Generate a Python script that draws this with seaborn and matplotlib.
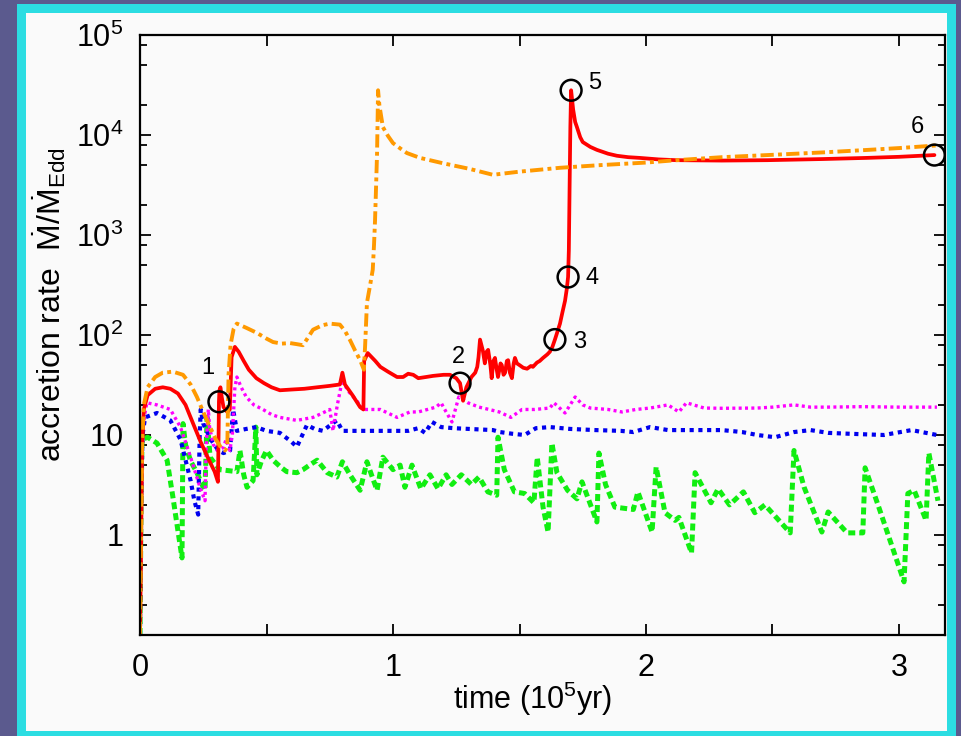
import matplotlib
matplotlib.use("Agg")
import matplotlib.pyplot as plt
import seaborn as sns
import pandas as pd
from matplotlib.patches import Rectangle
from matplotlib.ticker import FixedLocator, FixedFormatter, NullFormatter

sns.set_theme(style="ticks")
plt.rcParams["font.family"] = ["Liberation Sans", "DejaVu Sans"]
plt.rcParams["mathtext.fontset"] = "custom"
plt.rcParams["mathtext.rm"] = "Liberation Sans"
plt.rcParams["mathtext.it"] = "Liberation Sans"
plt.rcParams["mathtext.bf"] = "Liberation Sans:bold"
plt.rcParams["mathtext.default"] = "regular"

# ---- accretion histories (time in 1e5 yr, rate in Eddington units) ----
red_t = [0.000, 0.004, 0.008, 0.015, 0.03, 0.06, 0.09, 0.12, 0.15, 0.18, 0.21, 0.24, 0.27,
         0.295, 0.308, 0.311, 0.312, 0.314, 0.318, 0.323, 0.33, 0.345, 0.355, 0.362, 0.375,
         0.39, 0.41, 0.43, 0.46, 0.49, 0.52, 0.553, 0.60, 0.65, 0.70, 0.75, 0.79, 0.80, 0.81,
         0.84, 0.87, 0.883, 0.886, 0.90, 0.93, 0.95, 0.98, 1.016, 1.04, 1.06, 1.08, 1.10,
         1.13, 1.158, 1.20, 1.225, 1.25, 1.265, 1.277, 1.29, 1.31, 1.325, 1.333, 1.338, 1.344,
         1.355, 1.363, 1.37, 1.376, 1.385, 1.39, 1.397, 1.403, 1.41, 1.415, 1.425, 1.43, 1.437,
         1.443, 1.45, 1.455, 1.462, 1.47, 1.477, 1.482, 1.49, 1.50, 1.515, 1.53, 1.545, 1.553,
         1.569, 1.58, 1.593, 1.61, 1.62, 1.63, 1.64, 1.65, 1.66, 1.67, 1.68, 1.687, 1.692,
         1.695, 1.698, 1.701, 1.704, 1.712, 1.72, 1.727, 1.74, 1.75, 1.78, 1.806, 1.85, 1.885,
         1.93, 1.976, 2.05, 2.12, 2.3, 2.48, 2.7, 2.87, 3.0, 3.14]
red_rate = [0.1, 0.6, 7, 18, 25, 29, 30, 29, 26, 20, 13, 8.5, 5.8,
            4.3, 3.4, 12, 21.5, 28, 30, 24, 19, 17, 18, 60, 76,
            68, 55, 45, 37, 33, 30, 28, 28.5, 29, 30, 31, 32, 42, 32,
            25, 19, 18, 55, 66, 55, 48, 43, 38, 38, 41, 40, 37,
            38, 39, 40, 40, 37, 33, 22, 30, 38, 42, 48, 60, 90,
            70, 52, 68, 71, 50, 37, 55, 59, 45, 38, 52, 50, 40,
            42, 55, 56, 42, 37, 52, 59, 52, 50, 47, 46, 49, 48,
            53, 55, 59, 64, 68, 76, 90, 108, 130, 170, 220, 290, 380,
            700, 3000, 12000, 28000, 18000, 13500, 12000, 9500, 8500, 7600, 7100, 6500, 6200,
            6000, 5900, 5700, 5600, 5550, 5600, 5750, 5900, 6050, 6300]

orange_t = [0.000, 0.004, 0.008, 0.015, 0.03, 0.06, 0.09, 0.13, 0.17, 0.20, 0.225, 0.25,
            0.277, 0.30, 0.32, 0.336, 0.345, 0.350, 0.358, 0.37, 0.383, 0.42, 0.462, 0.50,
            0.526, 0.56, 0.593, 0.62, 0.644, 0.665, 0.684, 0.72, 0.75, 0.79, 0.81, 0.83, 0.85,
            0.87, 0.885, 0.89, 0.897, 0.91, 0.92, 0.925, 0.929, 0.933, 0.937, 0.941, 0.946,
            0.96, 0.98, 1.0, 1.03, 1.055, 1.107, 1.2, 1.3, 1.395, 1.5, 1.66, 1.82, 2.0, 2.12,
            2.3, 2.48, 2.7, 2.87, 3.0, 3.16]
orange_rate = [0.1, 1, 8, 20, 30, 38, 42, 43, 40, 32, 24, 17,
               12, 9, 7.5, 7, 7.5, 40, 80, 115, 130, 118, 105, 92,
               85, 82, 83, 81, 79, 95, 113, 125, 130, 127, 110, 89, 70,
               56, 45, 80, 210, 320, 450, 800, 1400, 3000, 6600, 28000, 20000,
               12000, 9800, 8300, 7300, 6600, 5900, 5200, 4600, 4000, 4300, 4700, 5000, 5300, 5600,
               6000, 6300, 6700, 7080, 7400, 7900]

magenta_t = [0.000, 0.004, 0.01, 0.027, 0.067, 0.12, 0.16, 0.2, 0.237, 0.257, 0.262, 0.27,
             0.275, 0.29, 0.305, 0.33, 0.34, 0.355, 0.365, 0.375, 0.383, 0.40, 0.42, 0.45,
             0.486, 0.52, 0.553, 0.62, 0.684, 0.72, 0.75, 0.763, 0.78, 0.80, 0.82, 0.857, 0.88,
             0.95, 1.016, 1.067, 1.1, 1.17, 1.19, 1.21, 1.233, 1.26, 1.296, 1.34, 1.38, 1.42,
             1.466, 1.51, 1.56, 1.62, 1.636, 1.68, 1.72, 1.75, 1.78, 1.85, 1.905, 1.96, 2.016,
             2.087, 2.13, 2.16, 2.23, 2.3, 2.44, 2.5, 2.585, 2.65, 2.72, 2.85, 3.0, 3.15]
magenta_rate = [0.1, 2, 12, 21, 20, 18, 12, 6, 3.0, 2.2, 8, 18,
                12, 8, 7, 7.5, 9, 7, 10, 30, 38, 30, 24, 20,
                18, 16, 15, 14, 15, 16.5, 18, 11, 20, 36, 28, 22, 18,
                18, 15, 17, 17, 19, 21, 17, 13.5, 24, 21, 19, 18, 17,
                15, 18, 18, 18.6, 21, 16.6, 24, 20, 18.6, 18, 17, 18, 18.6,
                20, 17, 21, 18.6, 18.5, 18.6, 19, 20, 19, 19, 19.2, 19, 19]

blue_t = [0.000, 0.004, 0.01, 0.02, 0.067, 0.12, 0.16, 0.2, 0.215, 0.23, 0.236, 0.24, 0.25,
          0.28, 0.31, 0.33, 0.356, 0.368, 0.383, 0.42, 0.46, 0.50, 0.553, 0.60, 0.62, 0.66,
          0.69, 0.723, 0.76, 0.778, 0.80, 0.84, 0.88, 0.95, 1.016, 1.06, 1.1, 1.127, 1.154,
          1.19, 1.24, 1.3, 1.395, 1.423, 1.47, 1.52, 1.565, 1.62, 1.7, 1.8, 1.9, 1.95, 2.016,
          2.087, 2.2, 2.3, 2.38, 2.44, 2.51, 2.585, 2.65, 2.72, 2.8, 2.94, 3.05, 3.15]
blue_rate = [0.1, 2, 10, 15, 16.6, 14, 9, 3.5, 2.2, 1.6, 10, 18, 13,
             9, 7, 6.6, 7, 18, 11, 11.5, 12, 11, 10.5, 8.5, 7.6, 12.6,
             11.5, 11, 13, 14, 11, 11, 11, 11, 11, 11, 11.7, 10.5, 13.5,
             12, 11.7, 11.5, 11.2, 10.7, 10.3, 10, 11.7, 12, 11.5, 11.2, 11, 10.7, 12,
             11.2, 11.2, 11.2, 10.7, 10, 9.5, 10.7, 11.2, 10.5, 10.3, 10, 11.2, 10]

green_t = [0.000, 0.004, 0.008, 0.03, 0.067, 0.107, 0.13, 0.15, 0.166, 0.17, 0.18, 0.2,
           0.225, 0.245, 0.257, 0.265, 0.277, 0.3, 0.316, 0.35, 0.383, 0.395, 0.41, 0.423,
           0.447, 0.458, 0.462, 0.48, 0.5, 0.526, 0.555, 0.58, 0.62, 0.644, 0.67, 0.70, 0.74,
           0.778, 0.80, 0.83, 0.87, 0.897, 0.915, 0.937, 0.96, 1.0, 1.028, 1.047, 1.075, 1.11,
           1.146, 1.178, 1.21, 1.233, 1.27, 1.31, 1.34, 1.375, 1.41, 1.415, 1.44, 1.48, 1.52,
           1.557, 1.57, 1.593, 1.613, 1.628, 1.648, 1.69, 1.727, 1.747, 1.806, 1.814, 1.84,
           1.877, 1.95, 1.968, 2.024, 2.04, 2.075, 2.115, 2.13, 2.18, 2.194, 2.257, 2.285,
           2.33, 2.385, 2.43, 2.47, 2.57, 2.585, 2.625, 2.695, 2.72, 2.795, 2.857, 2.866,
           2.92, 3.02, 3.035, 3.06, 3.107, 3.118, 3.154]
green_rate = [0.1, 2, 9, 9.5, 8.3, 5.6, 2.4, 1.1, 0.59, 13, 8, 5.5,
              4.2, 3.2, 2.8, 15, 6, 5, 4.5, 4.4, 4.3, 7, 4, 3.0,
              3.5, 12, 4, 5.5, 7, 5.6, 4.8, 4.3, 4.2, 4.5, 5, 5.6, 4.2,
              3.8, 5.4, 4, 2.8, 5.4, 4, 2.8, 6, 4.5, 5, 3.0, 5, 2.9,
              4.0, 2.9, 4.0, 3.2, 4.0, 3.2, 3.8, 2.7, 2.5, 9.5, 4.5, 2.7, 2.6,
              2.1, 6, 1.9, 1.07, 8.3, 4.2, 2.8, 2.3, 3.4, 1.35, 6.6, 3.2,
              1.9, 1.8, 2.7, 1.07, 4.8, 1.67, 1.4, 1.5, 0.66, 4.2, 2.1, 2.9,
              2.0, 2.7, 1.67, 2.0, 1.05, 7, 3.0, 1.07, 1.7, 1.05, 1.05, 4.7,
              1.9, 0.34, 2.6, 2.8, 1.4, 6.6, 2.2]

# marked evolutionary stages along the red track
stage_labels = ["1", "2", "3", "4", "5", "6"]
stage_t = [0.312, 1.265, 1.64, 1.692, 1.704, 3.14]
stage_rate = [21.5, 33, 90, 380, 28000, 6300]
stage_text_t = [0.269, 1.257, 1.739, 1.787, 1.798, 3.071]
stage_text_rate = [47, 60, 85, 372, 33000, 12000]

y_ticks = [1, 10, 100, 1e3, 1e4, 1e5]
y_ticklabels = ["1", "10", "$10^2$", "$10^3$", "$10^4$", "$10^5$"]
x_ticks = [0, 1, 2, 3]
x_ticklabels = ["0", "1", "2", "3"]

# ---- figure frame ----
fig = plt.figure(figsize=(9.61, 7.36), dpi=100, facecolor="#5B5A8E")
fig.patches.append(Rectangle((17 / 961, -0.02), 939 / 961, 1.02 - 4 / 736,
                             transform=fig.transFigure, facecolor="#2CDDE2",
                             edgecolor="none", zorder=-3))
fig.patches.append(Rectangle((26 / 961, 5 / 736), 921 / 961, 718 / 736,
                             transform=fig.transFigure, facecolor="#FAFAFA",
                             edgecolor="none", zorder=-2))

ax = fig.add_axes([140 / 961, 101 / 736, 805 / 961, 600 / 736])
ax.set_facecolor("#FAFAFA")

series = [
    (green_t, green_rate, "#11EE11", 3.6, (0, (1.4, 0.8))),
    (blue_t, blue_rate, "#0000EE", 3.0, (0, (1.0, 1.1))),
    (magenta_t, magenta_rate, "#FF00FF", 2.4, (0, (0.9, 1.0))),
    (red_t, red_rate, "#FF0000", 2.7, "-"),
    (orange_t, orange_rate, "#FF9900", 2.8, (0, (3.4, 1.1, 1.0, 1.1))),
]
for t, r, c, lw, ls in series:
    df = pd.DataFrame({"t": t, "rate": r})
    sns.lineplot(data=df, x="t", y="rate", ax=ax, color=c, lw=lw, linestyle=ls,
                 sort=False, estimator=None, dash_capstyle="butt")

sns.scatterplot(x=stage_t, y=stage_rate, ax=ax, s=225, facecolor="none",
                edgecolor="black", linewidth=1.8, zorder=6)
for lab, tx, ty in zip(stage_labels, stage_text_t, stage_text_rate):
    ax.text(tx, ty, lab, fontsize=17, ha="center", va="center", color="black", zorder=7)

ax.set_yscale("log")
ax.set_xlim(0, 805 / 253)
ax.set_ylim(0.1, 1e5)

ax.yaxis.set_major_locator(FixedLocator([0.1] + y_ticks))
ax.yaxis.set_major_formatter(FixedFormatter([""] + y_ticklabels))
minor_y = [m * 10.0 ** k for k in range(-1, 5) for m in (2, 5, 8)]
ax.yaxis.set_minor_locator(FixedLocator(minor_y))
ax.yaxis.set_minor_formatter(NullFormatter())

ax.xaxis.set_major_locator(FixedLocator(x_ticks))
ax.xaxis.set_major_formatter(FixedFormatter(x_ticklabels))
ax.xaxis.set_minor_locator(FixedLocator([0.5, 1.5, 2.5]))
ax.xaxis.set_minor_formatter(NullFormatter())

ax.tick_params(which="both", direction="in", top=True, right=True, colors="black",
               width=1.3, labelsize=22, labelcolor="black")
ax.tick_params(which="major", length=8)
ax.tick_params(axis="y", which="minor", length=5)
ax.tick_params(axis="x", which="minor", length=8)
ax.tick_params(axis="x", which="major", pad=13)
ax.tick_params(axis="y", which="major", pad=12)

for sp in ax.spines.values():
    sp.set_color("black")
    sp.set_linewidth(1.6)
    sp.set_visible(True)

ax.set_xlabel("time (10$^5$yr)", fontsize=22, color="black")
ax.set_ylabel(r"accretion rate  $\dot{M}/\dot{M}_{Edd}$", fontsize=23, color="black")
ax.xaxis.set_label_coords(0.488, -0.075)
ax.yaxis.set_label_coords(-0.089, 0.55)

fig.savefig("out.png", dpi=100, facecolor=fig.get_facecolor())
